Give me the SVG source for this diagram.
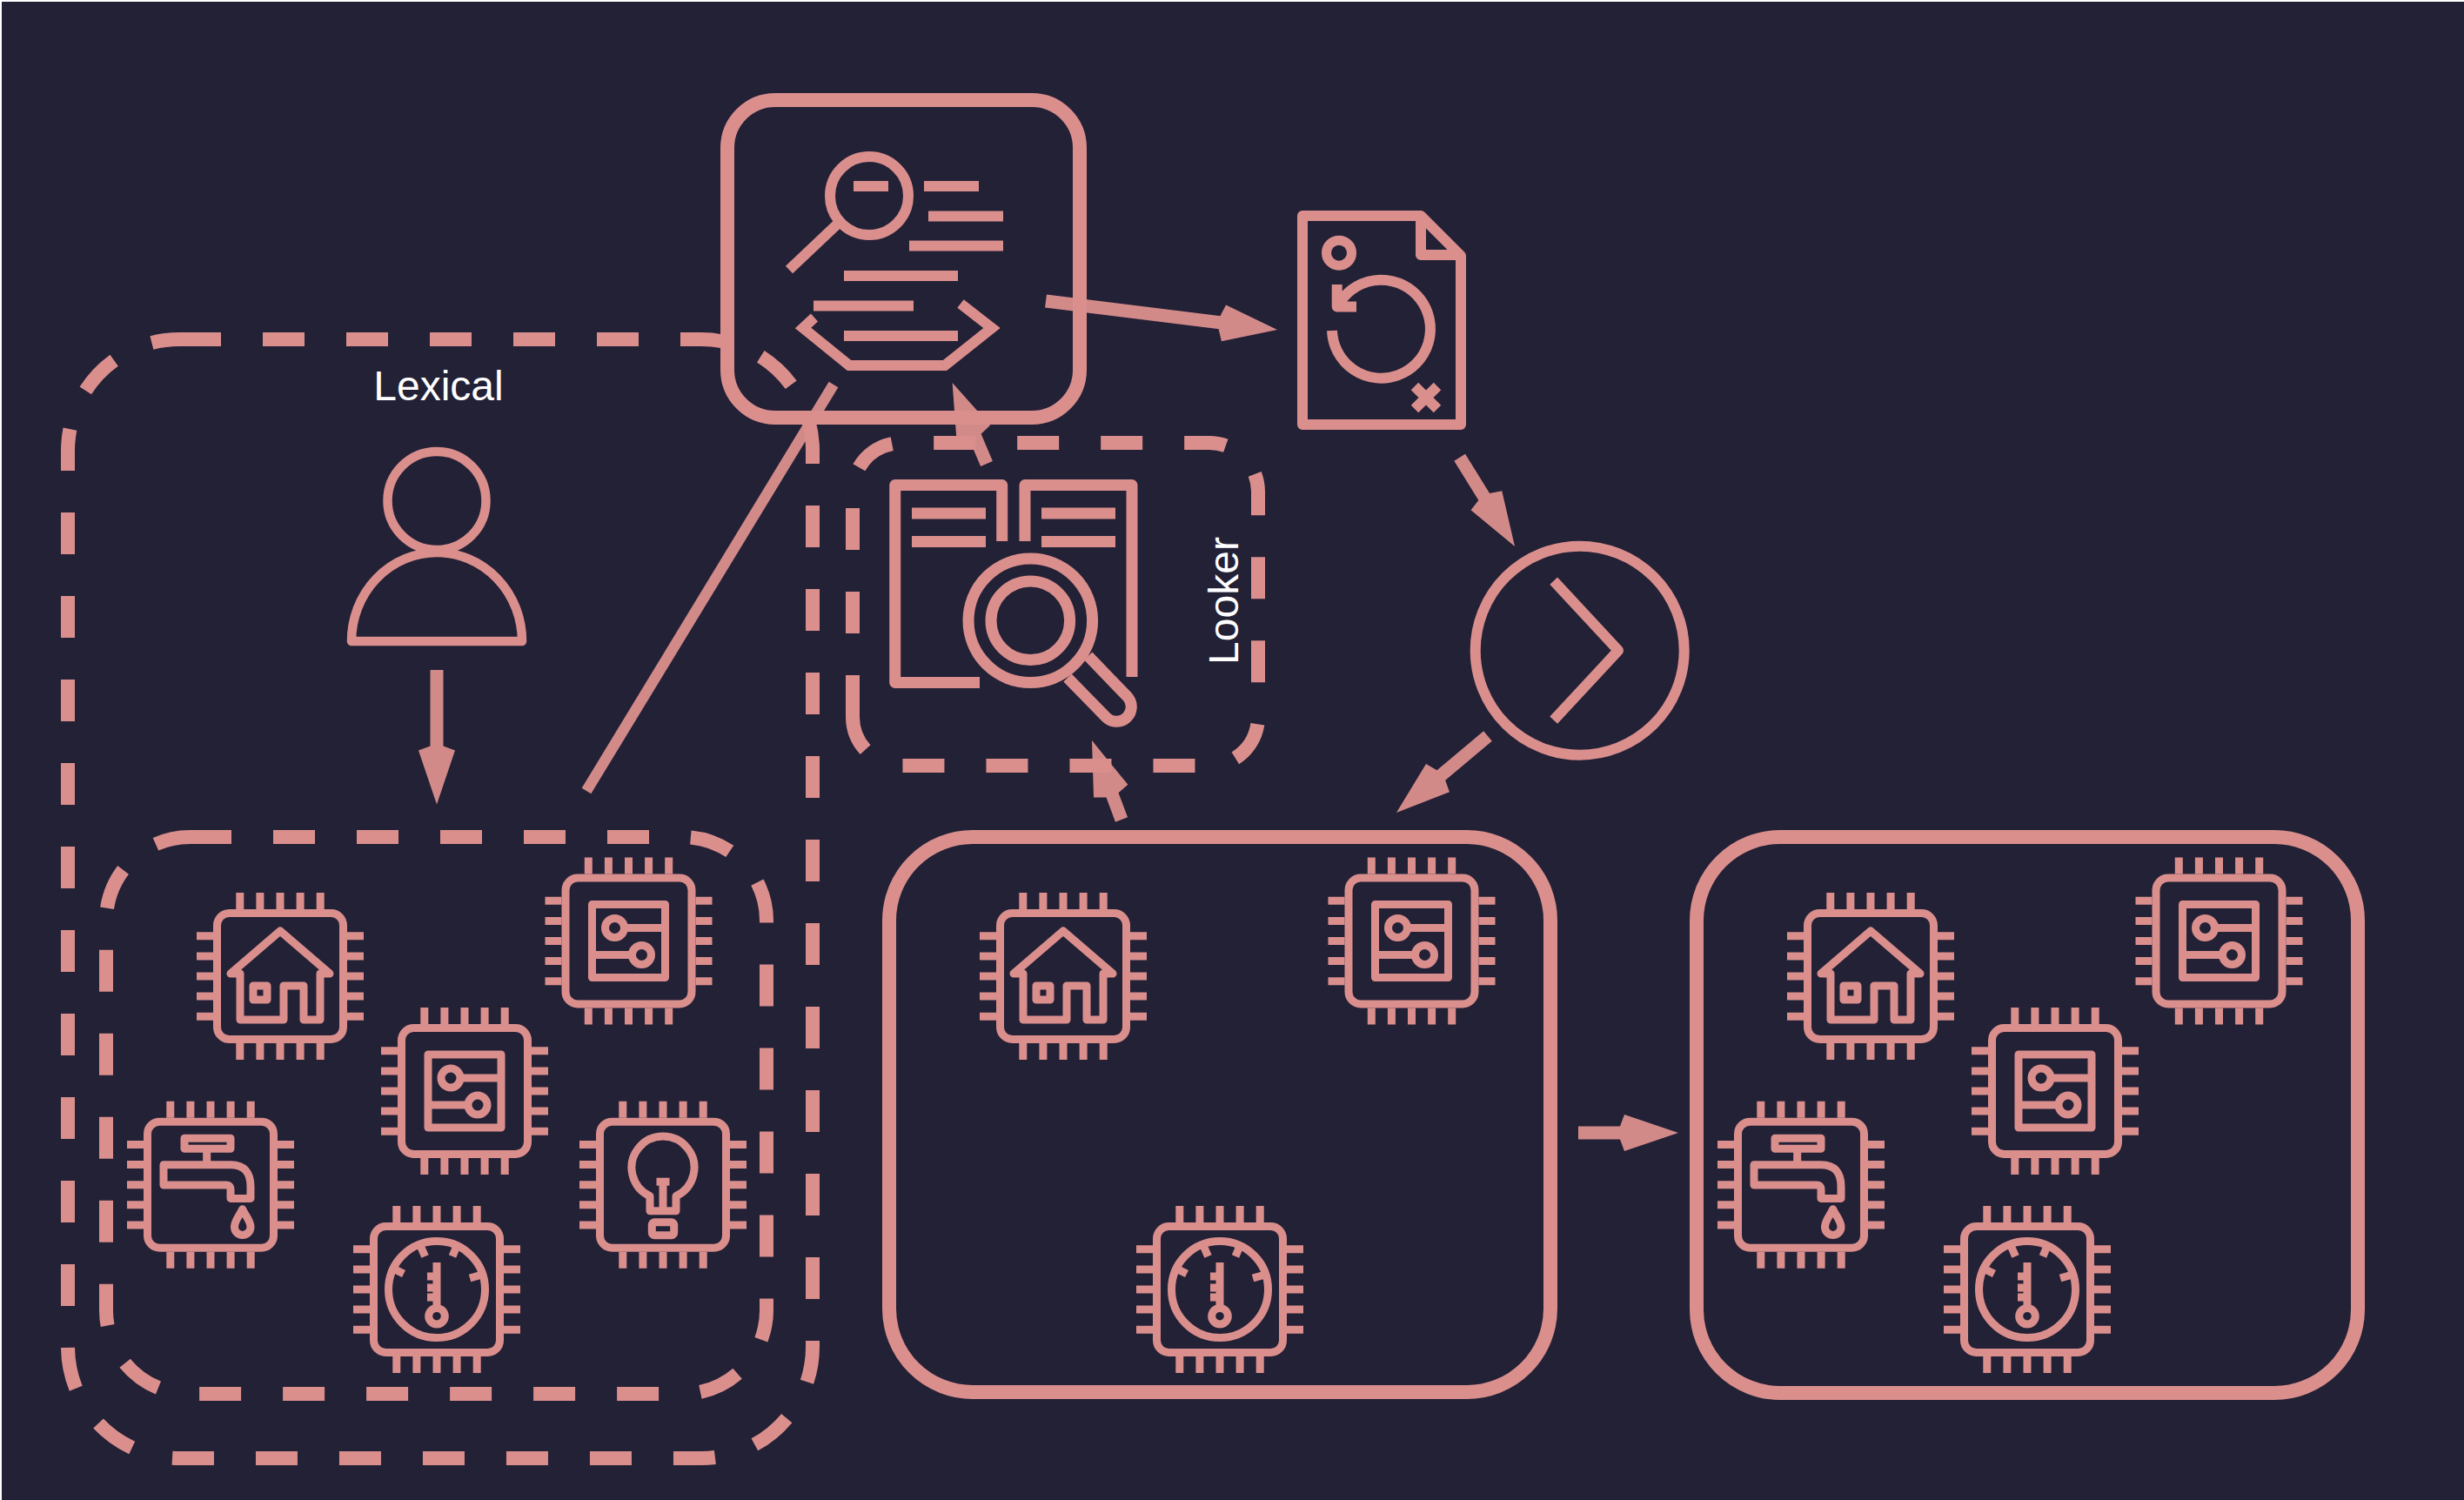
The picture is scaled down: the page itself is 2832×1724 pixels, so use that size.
<svg xmlns="http://www.w3.org/2000/svg" width="2832" height="1724" viewBox="0 0 2832 1724">
<style>
.i{fill:none;stroke:#da8f8d;stroke-width:9;stroke-linejoin:round}
.j{fill:none;stroke:#da8f8d;stroke-width:12;stroke-linejoin:round}
.b{fill:none;stroke:#da8f8d;stroke-width:16}
.d{stroke-dasharray:48 48}
.f{fill:#da8f8d}
.c{fill:none;stroke:#da8f8d;stroke-width:15;opacity:.96}
.t{font-family:"Liberation Sans",Arial,sans-serif;font-size:48px;fill:#fff;text-anchor:middle}
</style>
<defs>
<marker id="head" markerUnits="userSpaceOnUse" orient="auto" viewBox="-20 -25 75 50" markerWidth="75" markerHeight="50" refX="0" refY="0" overflow="visible"><path d="M50,0L-12,-21L-17,-7.500V7.500L-12,21Z" fill="#da8f8d"/></marker>
<g id="chip"><rect class="i" x="-72.500" y="-72.500" width="145" height="145" rx="14"/><path class="i" d="M-46.200,-96V-77M-23.100,-96V-77M0,-96V-77M23.100,-96V-77M46.200,-96V-77M-46.200,77V96M-23.100,77V96M0,77V96M23.100,77V96M46.200,77V96M-96,-46.200H-77M-96,-23.100H-77M-96,0H-77M-96,23.100H-77M-96,46.200H-77M77,-46.200H96M77,-23.100H96M77,0H96M77,23.100H96M77,46.200H96"/></g>
<g id="house"><use href="#chip"/><path class="i" d="M-46,-3H-57L0,-52L57,-3H46V50H27V11H4V50H-46Z"/><rect class="i" x="-31" y="11" width="16" height="16"/></g>
<g id="board"><use href="#chip"/><rect class="i" x="-42" y="-42" width="84" height="84"/><circle class="i" cx="-16" cy="-15" r="11"/><circle class="i" cx="15" cy="16" r="11"/><path class="i" d="M-5,-15H42M-42,16H4"/></g>
<g id="tap"><use href="#chip"/><rect class="i" x="-30" y="-53.500" width="53" height="12"/><path class="i" d="M-4.300,-41.500V-23M-54,-23H23Q46,-23 46,2V15.700H23V5Q23,.3 18,.3H-54Z"/><path class="i" d="M36.700,28C33,36 27.500,41 27.500,48.500A9.200,9.200 0 0 0 46,48.500C46,41 40,36 36.700,28Z"/></g>
<g id="gauge"><use href="#chip"/><circle class="i" r="55.500"/><path class="i" d="M-18.700,-50L-13.500,-38M23,-50L18,-38M-50,-24L-38,-18M52,-17L38,-13M0,-31V22M-11,-15H0M-11,-2H0M-11,9H0"/><circle class="i" cy="30.700" r="9.300"/></g>
<g id="bulb"><use href="#chip"/><path class="i" d="M-15,13A36,36 0 1 1 15,13V30H-15Z"/><path class="i" d="M0,27V-3"/><rect class="f" x="-7.500" y="-8" width="15" height="9"/><rect class="i" x="-12.700" y="43" width="25.400" height="15" rx="3"/></g>
</defs>
<rect width="2832" height="1724" fill="#fff"/>
<rect x="2" y="2" width="2830" height="1722" fill="#232136"/>

<g id="lexical-box"><path class="b d" d="M206,390H806A128,128 0 0 1 934,518V1548A128,128 0 0 1 806,1676H206A128,128 0 0 1 78,1548V518A128,128 0 0 1 206,390Z"/><text class="t" x="504" y="460">Lexical</text></g>
<g id="device-group-left-box"><path class="b d" d="M218,962H785A96,96 0 0 1 881,1058V1506A96,96 0 0 1 785,1602H218A96,96 0 0 1 122,1506V1058A96,96 0 0 1 218,962Z"/></g>
<g id="looker-box"><path class="b d" d="M980,824V565A56,56 0 0 1 1036,509H1390A56,56 0 0 1 1446,565V824A56,56 0 0 1 1390,880H1036A56,56 0 0 1 980,824Z"/><text class="t" transform="translate(1423,690.500) rotate(-90)">Looker</text></g>

<g id="user"><circle cx="502" cy="575.500" r="56.500" fill="none" stroke="#da8f8d" stroke-width="10.500"/><path d="M404,737A98,102 0 0 1 600,737Z" fill="none" stroke="#da8f8d" stroke-width="10.500" stroke-linejoin="round"/></g>

<g id="search-doc">
<path class="b" d="M891,115H1186A55,55 0 0 1 1241,170V425A55,55 0 0 1 1186,480H891A55,55 0 0 1 836,425V170A55,55 0 0 1 891,115Z"/>
<circle class="j" cx="999" cy="225" r="45"/>
<path class="j" d="M962,258L907,310M981,214H1021M1062,214H1125M1067,248.500H1153M1045,282.500H1153M970,317H1101M935,351.500H1050M970,386H1101"/>
<path class="j" style="stroke-linejoin:miter" d="M1104,349L1140,377L1086,420H976L923,377L936,365"/>
</g>

<g id="book-search">
<path fill="none" stroke="#da8f8d" stroke-width="13" stroke-linejoin="round" d="M1126,784.500H1028.700V557.500H1151.700V622M1178,622V557.500H1301V778"/>
<path fill="none" stroke="#da8f8d" stroke-width="13" d="M1048,590H1133M1048,622.500H1133M1197,590H1282M1197,622.500H1282"/>
<circle cx="1184.300" cy="713.300" r="71.300" fill="none" stroke="#da8f8d" stroke-width="13"/>
<circle cx="1184.300" cy="713.300" r="45.300" fill="none" stroke="#da8f8d" stroke-width="13"/>
<path fill="none" stroke="#da8f8d" stroke-width="13" d="M1250.700,754L1296,801A17,17 0 0 1 1272,825L1227,779"/>
</g>

<g id="recycle-doc">
<path class="j" d="M1497,248H1633L1679,294V488H1497ZM1633,248V293H1679"/>
<circle cx="1539" cy="290.700" r="14.500" fill="none" stroke="#da8f8d" stroke-width="11"/>
<path class="j" d="M1531,380A56.500,56.500 0 1 0 1541,346M1536.700,327V352.500H1559"/>
<path fill="none" stroke="#da8f8d" stroke-width="12" d="M1626,444L1652,470M1652,444L1626,470"/>
</g>

<g id="next-circle"><circle class="j" cx="1815.700" cy="747.700" r="120"/><path class="j" d="M1785.700,667.700L1860,747.700L1785.700,827.700"/></g>

<g id="device-group-middle-box"><path class="b" d="M1118,962H1686A96,96 0 0 1 1782,1058V1504A96,96 0 0 1 1686,1600H1118A96,96 0 0 1 1022,1504V1058A96,96 0 0 1 1118,962Z"/></g>
<g id="device-group-right-box"><path class="b" d="M2046,962H2614A96,96 0 0 1 2710,1058V1505A96,96 0 0 1 2614,1601H2046A96,96 0 0 1 1950,1505V1058A96,96 0 0 1 2046,962Z"/></g>

<g id="left-house"><use href="#house" x="322" y="1122"/></g>
<g id="left-board-a"><use href="#board" x="722.500" y="1081.500"/></g>
<g id="left-board-b"><use href="#board" x="534" y="1254"/></g>
<g id="left-tap"><use href="#tap" x="242" y="1361.700"/></g>
<g id="left-gauge"><use href="#gauge" x="502" y="1482"/></g>
<g id="left-bulb"><use href="#bulb" x="762" y="1361.700"/></g>

<g id="middle-house"><use href="#house" x="1222" y="1122"/></g>
<g id="middle-board"><use href="#board" x="1622.500" y="1081.500"/></g>
<g id="middle-gauge"><use href="#gauge" x="1402" y="1482"/></g>

<g id="right-house"><use href="#house" x="2150" y="1122"/></g>
<g id="right-board-a"><use href="#board" x="2550.500" y="1081.500"/></g>
<g id="right-board-b"><use href="#board" x="2362" y="1254"/></g>
<g id="right-tap"><use href="#tap" x="2070" y="1361.700"/></g>
<g id="right-gauge"><use href="#gauge" x="2330" y="1482"/></g>

<g id="connectors">
<line class="c" x1="1202" y1="346" x2="1418.400" y2="372.800" marker-end="url(#head)"/>
<line class="c" x1="1677.700" y1="525.700" x2="1714.700" y2="585.500" marker-end="url(#head)"/>
<line class="c" x1="1710" y1="846" x2="1643.300" y2="901.900" marker-end="url(#head)"/>
<line class="c" x1="1814" y1="1302" x2="1879" y2="1302" marker-end="url(#head)"/>
<line class="c" x1="502" y1="770" x2="502" y2="874.500" marker-end="url(#head)"/>
<line class="c" x1="1134" y1="533" x2="1114.100" y2="486" marker-end="url(#head)"/>
<line class="c" x1="1289" y1="942" x2="1272.500" y2="897.900" marker-end="url(#head)"/>
<line class="c" style="stroke-width:12.500" x1="674" y1="909" x2="958" y2="442"/>
</g>
</svg>
